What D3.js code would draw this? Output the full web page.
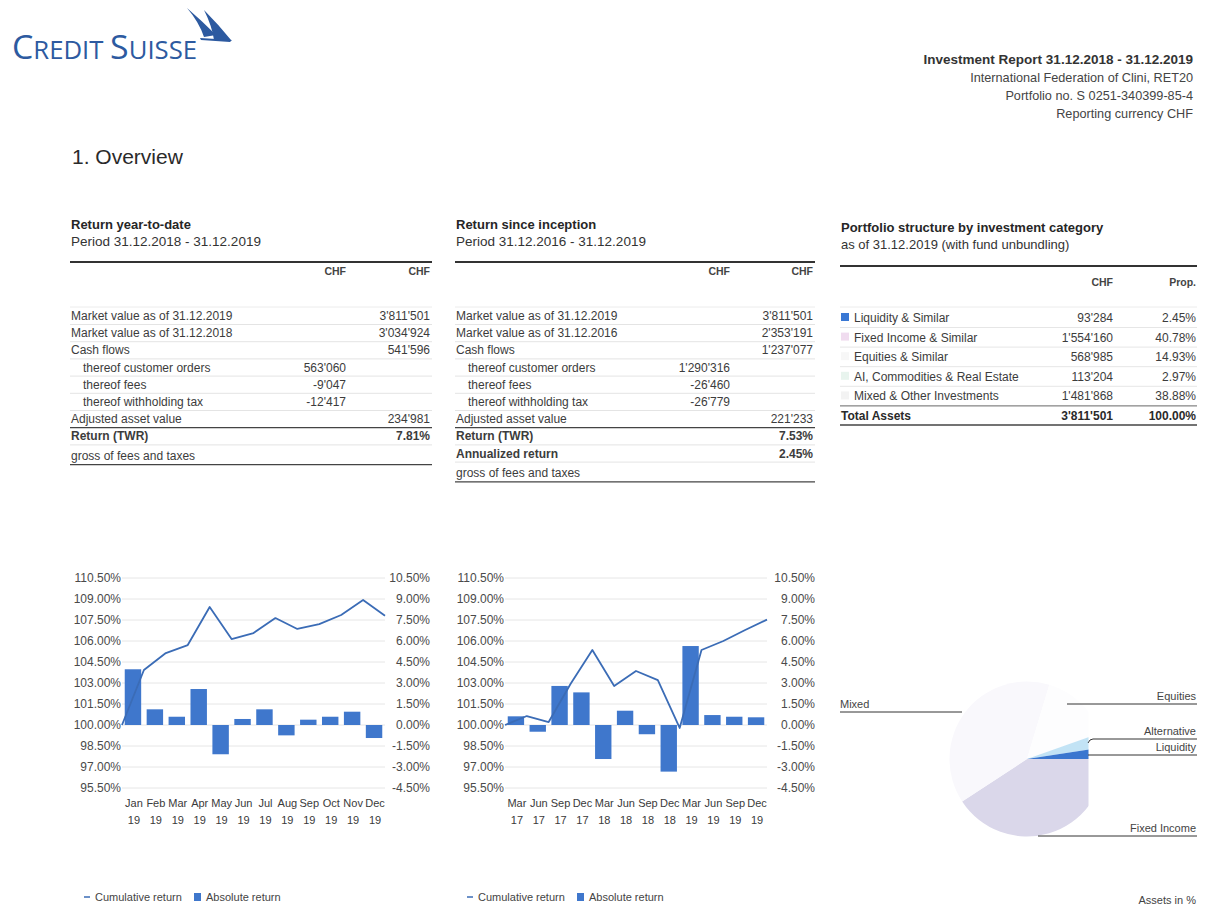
<!DOCTYPE html>
<html>
<head>
<meta charset="utf-8">
<script src="https://cdn.jsdelivr.net/npm/d3@7"></script>
<style>
  body { margin: 0; background: #fff; }
  svg { display: block; font-family: "Liberation Sans", Arial, sans-serif; }
</style>
</head>
<body>
<div id="page"></div>
<script>
// ---- data ----
const ytdMonths = ["Jan", "Feb", "Mar", "Apr", "May", "Jun", "Jul", "Aug", "Sep", "Oct", "Nov", "Dec"];
const ytdYears = ["19", "19", "19", "19", "19", "19", "19", "19", "19", "19", "19", "19"];
const ytdCumulative = [100, 103.93, 105.14, 105.71, 108.43, 106.14, 106.57, 107.64, 106.86, 107.21, 107.86, 108.93, 107.81];
const ytdAbsolute = [3.98, 1.12, 0.59, 2.57, -2.09, 0.43, 1.12, -0.74, 0.38, 0.59, 0.95, -0.93];

const incQuarters = ["Mar", "Jun", "Sep", "Dec", "Mar", "Jun", "Sep", "Dec", "Mar", "Jun", "Sep", "Dec"];
const incYears = ["17", "17", "17", "17", "18", "18", "18", "18", "19", "19", "19", "19"];
const incCumulative = [100, 100.64, 100.21, 102.93, 105.36, 102.79, 103.86, 103.21, 99.79, 105.36, 106.0, 106.79, 107.53];
const incAbsolute = [0.62, -0.48, 2.79, 2.33, -2.43, 1.02, -0.66, -3.33, 5.64, 0.71, 0.59, 0.55];

const leftTicks = [110.5, 109, 107.5, 106, 104.5, 103, 101.5, 100, 98.5, 97, 95.5];
const rightTicks = [10.5, 9, 7.5, 6, 4.5, 3, 1.5, 0, -1.5, -3, -4.5];

const ytdLabels = ["Market value as of 31.12.2019", "Market value as of 31.12.2018", "Cash flows",
  "thereof customer orders", "thereof fees", "thereof withholding tax", "Adjusted asset value",
  "Return (TWR)", "gross of fees and taxes"];
const ytdCol1 = ["", "", "", "563'060", "-9'047", "-12'417", "", "", ""];
const ytdCol2 = ["3'811'501", "3'034'924", "541'596", "", "", "", "234'981", "7.81%", ""];

const incLabels = ["Market value as of 31.12.2019", "Market value as of 31.12.2016", "Cash flows",
  "thereof customer orders", "thereof fees", "thereof withholding tax", "Adjusted asset value",
  "Return (TWR)", "Annualized return", "gross of fees and taxes"];
const incCol1 = ["", "", "", "1'290'316", "-26'460", "-26'779", "", "", "", ""];
const incCol2 = ["3'811'501", "2'353'191", "1'237'077", "", "", "", "221'233", "7.53%", "2.45%", ""];

const assetCategories = ["Liquidity & Similar", "Fixed Income & Similar", "Equities & Similar",
  "AI, Commodities & Real Estate", "Mixed & Other Investments"];
const assetCHF = ["93'284", "1'554'160", "568'985", "113'204", "1'481'868"];
const assetProp = [2.45, 40.78, 14.93, 2.97, 38.88];
const assetTotal = ["3'811'501", "100.00%"];

// pie goes clockwise from 3 o'clock in this order (index into assetProp)
const pieOrder = [1, 4, 2, 3, 0];
const pieLabels = ["Liquidity", "Fixed Income", "Equities", "Alternative", "Mixed"];

// ---- styles ----
const barColor = "#3f77cc";
const lineColor = "#3b6cb6";
const textColor = "#3c3c3c";
const gridColor = "#e6e6e6";
const swatchColors = ["#3a78d4", "#f0dcef", "#f7f7f7", "#e8f4ee", "#f3f3f3"];
const pieColors = ["#3a76cf", "#dad7ea", "#fdfdfe", "#c2e3f5", "#f9f8fc"];

const width = 1205;
const height = 908;

const svg = d3.select("#page").append("svg")
  .attr("width", width)
  .attr("height", height);

svg.append("rect").attr("width", width).attr("height", height).attr("fill", "#fff");

// ---- header ----
const logo = svg.append("g");
const logoText = logo.append("text")
  .attr("x", 12).attr("y", 59)
  .attr("fill", "#2d5aa0")
  .style("font-family", "'Open Sans', sans-serif")
  .attr("textLength", 185)
  .attr("lengthAdjust", "spacingAndGlyphs");
logoText.append("tspan").attr("font-size", 33).text("C");
logoText.append("tspan").attr("font-size", 25).text("REDIT ");
logoText.append("tspan").attr("font-size", 33).text("S");
logoText.append("tspan").attr("font-size", 25).text("UISSE");

logo.append("path")
  .attr("d", "M187,8 Q201,20 216,35 L204,37 Q199,22 187,8 Z")
  .attr("fill", "#2d5aa0");
logo.append("path")
  .attr("d", "M204,10 Q218,24 231,40 L214,40 Q212,26 204,10 Z")
  .attr("fill", "#2d5aa0");
logo.append("path")
  .attr("d", "M200,38 L232,40 L230,42 L201,40 Z")
  .attr("fill", "#2d5aa0");

const headLines = ["International Federation of Clini, RET20", "Portfolio no. S 0251-340399-85-4", "Reporting currency CHF"];
svg.append("text")
  .attr("x", 1193).attr("y", 64)
  .attr("text-anchor", "end")
  .attr("font-size", 13.5).attr("font-weight", "bold")
  .attr("fill", "#333")
  .text("Investment Report 31.12.2018 - 31.12.2019");
svg.selectAll(".headline").data(headLines).join("text")
  .attr("class", "headline")
  .attr("x", 1193)
  .attr("y", (d, i) => 82 + i * 18)
  .attr("text-anchor", "end")
  .attr("font-size", 12.7)
  .attr("fill", "#444")
  .text(d => d);

svg.append("text")
  .attr("x", 72).attr("y", 164)
  .attr("font-size", 21)
  .attr("fill", "#2a2a2a")
  .text("1. Overview");

// ---- tables ----
function drawReturnTable(x0, x1, title, subtitle, labels, col1, col2, col1X) {
  const g = svg.append("g");
  g.append("text").attr("x", x0 + 1).attr("y", 229)
    .attr("font-size", 13).attr("font-weight", "bold").attr("fill", "#262626").text(title);
  g.append("text").attr("x", x0 + 1).attr("y", 246)
    .attr("font-size", 13.5).attr("fill", "#333").text(subtitle);
  g.append("line").attr("x1", x0).attr("x2", x1).attr("y1", 262).attr("y2", 262)
    .attr("stroke", "#333").attr("stroke-width", 2);
  [col1X, x1 - 2].forEach(cx => {
    g.append("text").attr("x", cx).attr("y", 275).attr("text-anchor", "end")
      .attr("font-size", 10.5).attr("font-weight", "bold").attr("fill", "#444").text("CHF");
  });

  const rowY = (d, i) => (d.startsWith("gross") ? 322 + i * 17.2 : 320 + i * 17.2);

  // light separators
  g.selectAll(".sep").data(labels.slice(0, labels.length - 1)).join("line")
    .attr("class", "sep")
    .attr("x1", x0).attr("x2", x1)
    .attr("y1", (d, i) => rowY(d, i) + 4.5)
    .attr("y2", (d, i) => rowY(d, i) + 4.5)
    .attr("stroke", (d) => d === "Adjusted asset value" ? "#444" : "#e4e4e4")
    .attr("stroke-width", (d) => d === "Adjusted asset value" ? 1.3 : 1);
  g.append("line").attr("x1", x0).attr("x2", x1).attr("y1", 307).attr("y2", 307)
    .attr("stroke", "#ececec");
  const last = labels.length - 1;
  g.append("line").attr("x1", x0).attr("x2", x1)
    .attr("y1", rowY(labels[last], last) + 5).attr("y2", rowY(labels[last], last) + 5)
    .attr("stroke", "#444").attr("stroke-width", 1.3);

  const isBold = d => d === "Return (TWR)" || d === "Annualized return";
  g.selectAll(".lab").data(labels).join("text")
    .attr("class", "lab")
    .attr("x", d => d.startsWith("thereof") ? x0 + 13 : x0 + 1)
    .attr("y", rowY)
    .attr("font-size", 12)
    .attr("font-weight", d => isBold(d) ? "bold" : "normal")
    .attr("fill", textColor)
    .text(d => d);
  g.selectAll(".c1").data(col1).join("text")
    .attr("class", "c1")
    .attr("x", col1X).attr("y", (d, i) => rowY(labels[i], i))
    .attr("text-anchor", "end").attr("font-size", 12).attr("fill", textColor)
    .text(d => d);
  g.selectAll(".c2").data(col2).join("text")
    .attr("class", "c2")
    .attr("x", x1 - 2).attr("y", (d, i) => rowY(labels[i], i))
    .attr("text-anchor", "end").attr("font-size", 12)
    .attr("font-weight", (d, i) => isBold(labels[i]) ? "bold" : "normal")
    .attr("fill", textColor)
    .text(d => d);
}

drawReturnTable(70, 432, "Return year-to-date", "Period 31.12.2018 - 31.12.2019", ytdLabels, ytdCol1, ytdCol2, 346);
drawReturnTable(455, 815, "Return since inception", "Period 31.12.2016 - 31.12.2019", incLabels, incCol1, incCol2, 730);

// structure table
(function () {
  const x0 = 840, x1 = 1197;
  const g = svg.append("g");
  g.append("text").attr("x", x0 + 1).attr("y", 232)
    .attr("font-size", 13).attr("font-weight", "bold").attr("fill", "#262626")
    .text("Portfolio structure by investment category");
  g.append("text").attr("x", x0 + 1).attr("y", 249)
    .attr("font-size", 13).attr("fill", "#333")
    .text("as of 31.12.2019 (with fund unbundling)");
  g.append("line").attr("x1", x0).attr("x2", x1).attr("y1", 266).attr("y2", 266)
    .attr("stroke", "#333").attr("stroke-width", 2);
  g.append("text").attr("x", 1113).attr("y", 286).attr("text-anchor", "end")
    .attr("font-size", 10.5).attr("font-weight", "bold").attr("fill", "#444").text("CHF");
  g.append("text").attr("x", 1196).attr("y", 286).attr("text-anchor", "end")
    .attr("font-size", 10.5).attr("font-weight", "bold").attr("fill", "#444").text("Prop.");

  const rowY = i => 322 + i * 19.6;
  g.append("line").attr("x1", x0).attr("x2", x1).attr("y1", 307).attr("y2", 307).attr("stroke", "#ececec");
  g.selectAll(".sep").data(assetCategories).join("line")
    .attr("class", "sep")
    .attr("x1", x0).attr("x2", x1)
    .attr("y1", (d, i) => rowY(i) + 5.5).attr("y2", (d, i) => rowY(i) + 5.5)
    .attr("stroke", (d, i) => i === assetCategories.length - 1 ? "#666" : "#e6e6e6");
  g.selectAll(".sw").data(assetCategories).join("rect")
    .attr("class", "sw")
    .attr("x", x0 + 1).attr("y", (d, i) => rowY(i) - 9)
    .attr("width", 8).attr("height", 8)
    .attr("fill", (d, i) => swatchColors[i]);
  g.selectAll(".lab").data(assetCategories).join("text")
    .attr("class", "lab")
    .attr("x", x0 + 14).attr("y", (d, i) => rowY(i))
    .attr("font-size", 12).attr("fill", textColor).text(d => d);
  g.selectAll(".chf").data(assetCHF).join("text")
    .attr("class", "chf")
    .attr("x", 1113).attr("y", (d, i) => rowY(i))
    .attr("text-anchor", "end").attr("font-size", 12).attr("fill", textColor).text(d => d);
  g.selectAll(".prop").data(assetProp).join("text")
    .attr("class", "prop")
    .attr("x", 1196).attr("y", (d, i) => rowY(i))
    .attr("text-anchor", "end").attr("font-size", 12).attr("fill", textColor)
    .text(d => d.toFixed(2) + "%");
  const ty = rowY(assetCategories.length);
  g.append("text").attr("x", x0 + 1).attr("y", ty)
    .attr("font-size", 12).attr("font-weight", "bold").attr("fill", "#2a2a2a").text("Total Assets");
  g.append("text").attr("x", 1113).attr("y", ty).attr("text-anchor", "end")
    .attr("font-size", 12).attr("font-weight", "bold").attr("fill", "#2a2a2a").text(assetTotal[0]);
  g.append("text").attr("x", 1196).attr("y", ty).attr("text-anchor", "end")
    .attr("font-size", 12).attr("font-weight", "bold").attr("fill", "#2a2a2a").text(assetTotal[1]);
  g.append("line").attr("x1", x0).attr("x2", x1).attr("y1", ty + 5).attr("y2", ty + 5)
    .attr("stroke", "#444").attr("stroke-width", 1.3);
})();

// ---- return charts ----
const yLeft = d3.scaleLinear().domain([95.5, 110.5]).range([788, 578]);
const yRight = d3.scaleLinear().domain([-4.5, 10.5]).range([788, 578]);
const pct = d => d.toFixed(2) + "%";

function drawReturnChart(cfg) {
  const g = svg.append("g");
  const xBand = d3.scaleBand()
    .domain(d3.range(cfg.cats.length))
    .range([cfg.x0, cfg.x1])
    .paddingInner(0.25)
    .paddingOuter(0.125);
  const xLine = d3.scaleLinear().domain([0, cfg.cum.length - 1]).range([cfg.x0, cfg.x1]);

  g.selectAll(".grid").data(leftTicks).join("line")
    .attr("class", "grid")
    .attr("x1", cfg.x0).attr("x2", cfg.x1)
    .attr("y1", d => yLeft(d)).attr("y2", d => yLeft(d))
    .attr("stroke", gridColor);

  const la = g.append("g")
    .attr("transform", `translate(${cfg.x0},0)`)
    .call(d3.axisLeft(yLeft).tickValues(leftTicks).tickSize(0).tickPadding(1).tickFormat(pct));
  la.select(".domain").remove();

  const ra = g.append("g")
    .attr("transform", `translate(${cfg.rightEdge},0)`)
    .call(d3.axisLeft(yRight).tickValues(rightTicks).tickSize(0).tickPadding(0).tickFormat(pct));
  ra.select(".domain").remove();

  g.selectAll(".tick text")
    .attr("font-size", 12)
    .attr("fill", "#4a4a4a")
    .style("font-family", "'Liberation Sans', Arial, sans-serif");

  g.selectAll(".bar").data(cfg.abs).join("rect")
    .attr("class", "bar")
    .attr("x", (d, i) => xBand(i))
    .attr("width", xBand.bandwidth())
    .attr("y", d => yRight(Math.max(0, d)))
    .attr("height", d => Math.abs(yRight(d) - yRight(0)))
    .attr("fill", barColor);

  g.append("path")
    .datum(cfg.cum)
    .attr("fill", "none")
    .attr("stroke", lineColor)
    .attr("stroke-width", 1.8)
    .attr("stroke-linejoin", "round")
    .attr("d", d3.line().x((d, i) => xLine(i)).y(d => yLeft(d)));

  const lab = g.selectAll(".cat").data(cfg.cats).join("text")
    .attr("class", "cat")
    .attr("text-anchor", "middle")
    .attr("font-size", 11)
    .attr("fill", "#3a3a3a");
  lab.append("tspan")
    .attr("x", (d, i) => xBand(i) + xBand.bandwidth() / 2 + 1)
    .attr("y", 807)
    .text(d => d);
  lab.append("tspan")
    .attr("x", (d, i) => xBand(i) + xBand.bandwidth() / 2 + 1)
    .attr("y", 824)
    .text((d, i) => cfg.years[i]);

  // legend
  const lg = g.append("g").attr("transform", `translate(${cfg.legendX},897)`);
  lg.append("line").attr("x1", 0).attr("x2", 6).attr("y1", 0).attr("y2", 0)
    .attr("stroke", lineColor).attr("stroke-width", 1.5);
  lg.append("text").attr("x", 11).attr("y", 4).attr("font-size", 11).attr("fill", "#444")
    .text("Cumulative return");
  lg.append("rect").attr("x", 110).attr("y", -4).attr("width", 7).attr("height", 8).attr("fill", barColor);
  lg.append("text").attr("x", 122).attr("y", 4).attr("font-size", 11).attr("fill", "#444")
    .text("Absolute return");
}

drawReturnChart({ x0: 122, x1: 385, rightEdge: 430, legendX: 84, cats: ytdMonths, years: ytdYears, cum: ytdCumulative, abs: ytdAbsolute });
drawReturnChart({ x0: 505, x1: 767, rightEdge: 815, legendX: 467, cats: incQuarters, years: incYears, cum: incCumulative, abs: incAbsolute });

// ---- structure pie ----
(function () {
  const cx = 1027, cy = 759, r = 77.5;
  const g = svg.append("g");
  svg.append("defs").append("clipPath").attr("id", "pieClip")
    .append("rect").attr("x", 900).attr("y", 660).attr("width", 188.5).attr("height", 200);

  const slices = pieOrder.map(i => ({ idx: i, value: assetProp[i] }));
  const pie = d3.pie().sort(null).value(d => d.value)
    .startAngle(Math.PI / 2).endAngle(Math.PI / 2 + 2 * Math.PI);
  const arc = d3.arc().innerRadius(0).outerRadius(r);

  g.append("g")
    .attr("clip-path", "url(#pieClip)")
    .append("g")
    .attr("transform", `translate(${cx},${cy})`)
    .selectAll("path").data(pie(slices)).join("path")
    .attr("d", arc)
    .attr("fill", d => pieColors[d.data.idx]);

  // labels with underline leaders
  const labelSpec = [
    { idx: 4, y: 708, x1: 840, x2: 962, anchor: "start" },
    { idx: 2, y: 700, x1: 1067, x2: 1197, anchor: "end" },
    { idx: 3, y: 735, x1: 1093, x2: 1197, anchor: "end" },
    { idx: 0, y: 751, x1: 1088, x2: 1197, anchor: "end" },
    { idx: 1, y: 832, x1: 1038, x2: 1197, anchor: "end" }
  ];
  labelSpec.forEach(s => {
    g.append("text")
      .attr("x", s.anchor === "start" ? s.x1 : 1196)
      .attr("y", s.y)
      .attr("text-anchor", s.anchor)
      .attr("font-size", 11)
      .attr("fill", "#444")
      .text(pieLabels[s.idx]);
    g.append("line")
      .attr("x1", s.x1).attr("x2", s.x2)
      .attr("y1", s.y + 4).attr("y2", s.y + 4)
      .attr("stroke", "#333").attr("stroke-width", 1);
  });
  g.append("path").attr("d", "M1093,739 L1090,740 L1088,743")
    .attr("fill", "none").attr("stroke", "#333");

  g.append("text").attr("x", 1196).attr("y", 904).attr("text-anchor", "end")
    .attr("font-size", 11).attr("fill", "#444").text("Assets in %");
})();
</script>
</body>
</html>
